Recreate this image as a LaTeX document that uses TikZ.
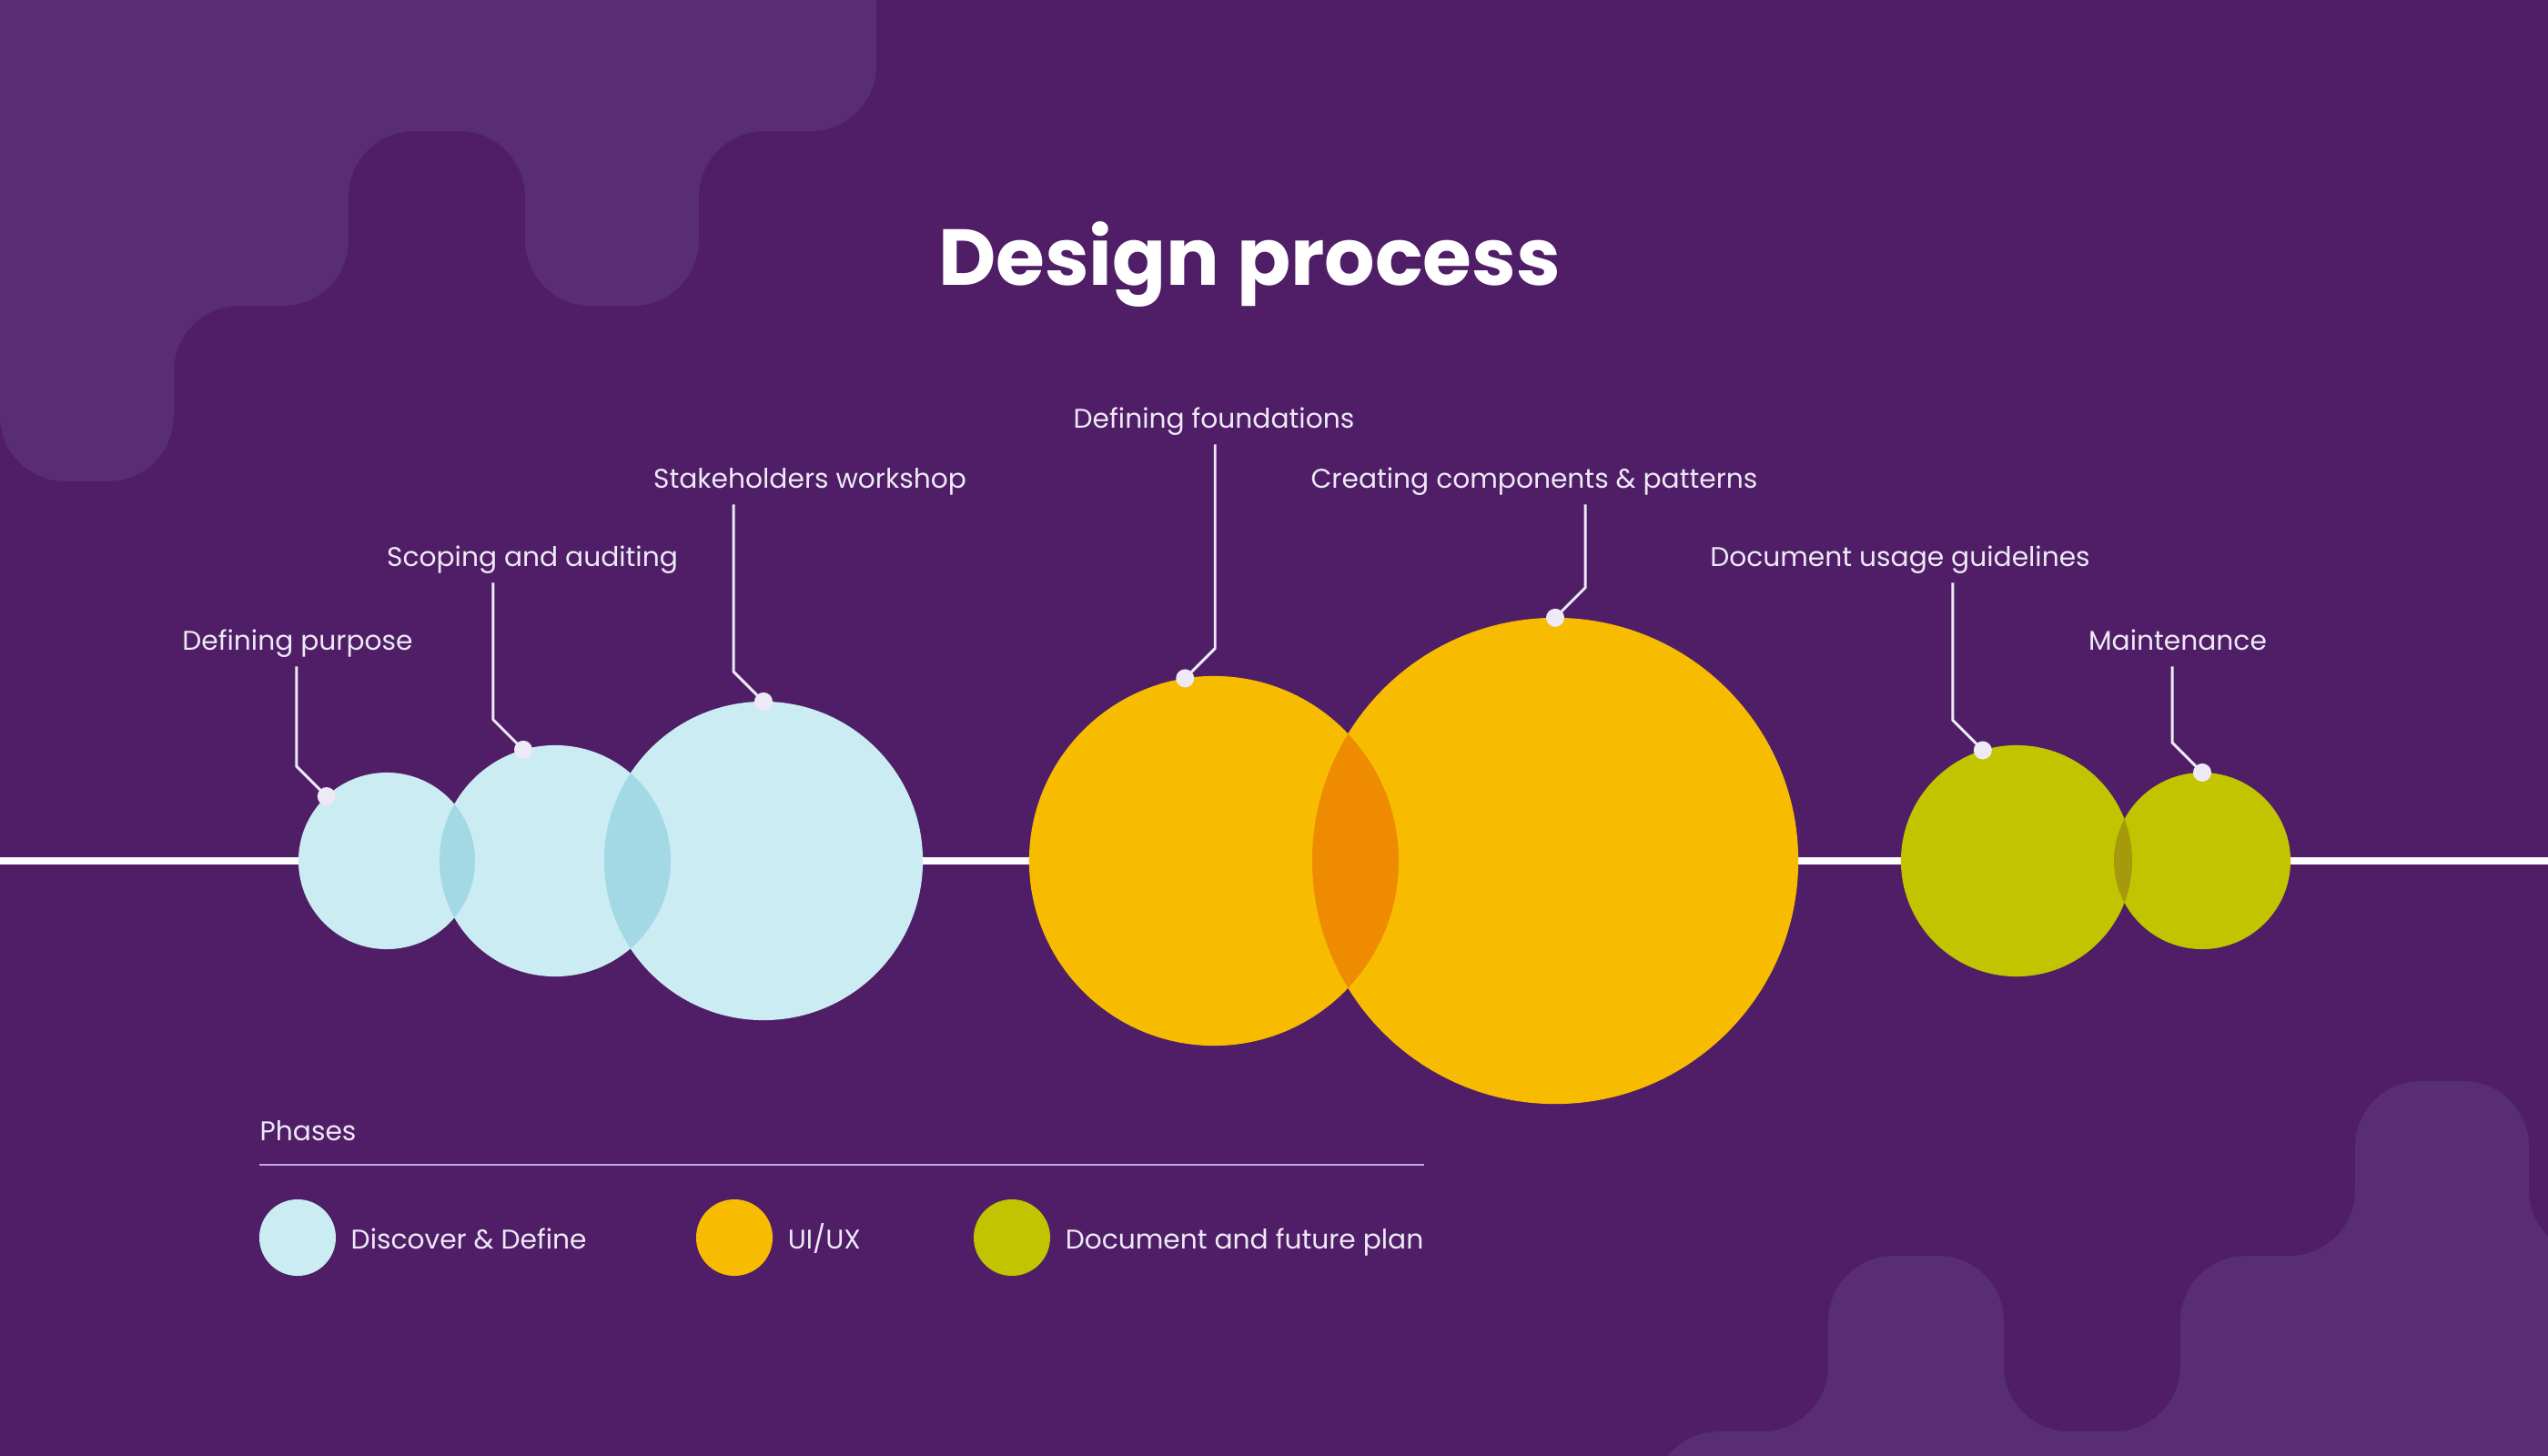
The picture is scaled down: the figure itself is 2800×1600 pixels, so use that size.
\documentclass[tikz,border=0pt]{standalone}
\usepackage{fontspec}
\setmainfont{Poppins}
\usetikzlibrary{positioning,calc}
\definecolor{bgcol}{RGB}{79,30,102}
\definecolor{blobcol}{RGB}{88,45,116}
\definecolor{textcol}{RGB}{237,233,246}
\definecolor{rulecol}{RGB}{196,166,224}
\definecolor{discol}{RGB}{202,236,242}
\definecolor{disdark}{RGB}{162,217,229}
\definecolor{uxcol}{RGB}{247,188,0}
\definecolor{uxdark}{RGB}{239,139,0}
\definecolor{doccol}{RGB}{194,196,0}
\definecolor{docdark}{RGB}{166,154,12}
\newcommand\stagefont{\fontsize{8.45pt}{10pt}\selectfont}

\begin{document}
\begin{tikzpicture}[
    x=0.01cm, y=-0.01cm,
    phase/.style={circle, inner sep=0pt, outer sep=0pt, minimum size=#1},
    dot/.style={circle, fill=textcol, inner sep=0pt, minimum size=0.2cm},
    stage/.style={text=textcol, font=\stagefont, inner xsep=0pt, inner ysep=5pt, text depth=0pt, anchor=base},
    legtext/.style={text=textcol, font=\stagefont, inner sep=0pt, text height=0.7em, text depth=0pt},
    leader/.style={draw=textcol, line width=0.85pt},
    axis/.style={draw=white, line width=2pt},
    rule/.style={draw=rulecol, line width=0.6pt},
    blob/.style={fill=blobcol, rounded corners=0.72cm},
]
\useasboundingbox (0,0) rectangle (2800,1600);
\clip (0,0) rectangle (2800,1600);
\fill[bgcol] (0,0) rectangle (2800,1600);

\fill[blob] (0,-200) -- (0,529) -- (191,529) -- (191,336) -- (383,336) -- (383,144) -- (577,144) -- (577,336) -- (768,336) -- (768,144) -- (963,144) -- (963,-200) -- cycle;
\fill[blob] (1817,1800) -- (1817,1573) -- (2009,1573) -- (2009,1380) -- (2202,1380) -- (2202,1573) -- (2396,1573) -- (2396,1380) -- (2588,1380) -- (2588,1188) -- (2779,1188) -- (2779,1380) -- (3000,1380) -- (3000,1800) -- cycle;

\node[text=white, font=\fontsize{24.8pt}{30pt}\selectfont\bfseries, anchor=base] (title) at (1373,314) {Design process};

\coordinate (axisL) at (0,946);
\coordinate (axisR) at (2800,946);
\draw[axis] (axisL) -- (axisR);

\node[phase=1.94cm, fill=discol] (c1) at (425,946) {};
\node[phase=2.54cm, fill=discol] (c2) at (610,946) {};
\node[phase=3.50cm, fill=discol] (c3) at (839,946) {};
\node[phase=4.06cm, fill=uxcol] (c4) at (1334,946) {};
\node[phase=5.34cm, fill=uxcol] (c5) at (1709,946) {};
\node[phase=2.54cm, fill=doccol] (c6) at (2216,946) {};
\node[phase=1.94cm, fill=doccol] (c7) at (2420,946) {};

\begin{scope}
  \clip (c1.center) circle[radius=97];
  \fill[disdark] (c2.center) circle[radius=127];
\end{scope}
\begin{scope}
  \clip (c2.center) circle[radius=127];
  \fill[disdark] (c3.center) circle[radius=175];
\end{scope}
\begin{scope}
  \clip (c4.center) circle[radius=203];
  \fill[uxdark] (c5.center) circle[radius=267];
\end{scope}
\begin{scope}
  \clip (c6.center) circle[radius=127];
  \fill[docdark] (c7.center) circle[radius=97];
\end{scope}

\node[stage] (s1) at (327,714) {Defining purpose};
\node[stage] (s2) at (585,622) {Scoping and auditing};
\node[stage] (s3) at (890,536) {Stakeholders workshop};
\node[stage] (s4) at (1334,470) {Defining foundations};
\node[stage] (s5) at (1686,536) {Creating components \& patterns};
\node[stage] (s6) at (2088,622) {Document usage guidelines};
\node[stage] (s7) at (2393,714) {Maintenance};

\draw[leader] (c1.133) -- ++(-33,-33) coordinate (b1) -- (b1 |- s1.south);
\draw[leader] (c2.106) -- ++(-33,-33) coordinate (b2) -- (b2 |- s2.south);
\draw[leader] (c3.90) -- ++(-33,-33) coordinate (b3) -- (b3 |- s3.south);
\draw[leader] (c4.99) -- ++(33,-33) coordinate (b4) -- (b4 |- s4.south);
\draw[leader] (c5.90) -- ++(33,-33) coordinate (b5) -- (b5 |- s5.south);
\draw[leader] (c6.107) -- ++(-33,-33) coordinate (b6) -- (b6 |- s6.south);
\draw[leader] (c7.90) -- ++(-33,-33) coordinate (b7) -- (b7 |- s7.south);

\node[dot] (d1) at (c1.133) {};
\node[dot] (d2) at (c2.106) {};
\node[dot] (d3) at (c3.90) {};
\node[dot] (d4) at (c4.99) {};
\node[dot] (d5) at (c5.90) {};
\node[dot] (d6) at (c6.107) {};
\node[dot] (d7) at (c7.90) {};

\node[legtext, anchor=base west] (phases) at (285,1253) {Phases};
\coordinate (ruleL) at (285,1280);
\node[phase=0.84cm, fill=discol] (k1) at (327,1360) {};
\node[legtext, right=0.16cm of k1] (t1) {Discover \& Define};
\node[phase=0.84cm, fill=uxcol] (k2) at (807,1360) {};
\node[legtext, right=0.16cm of k2] (t2) {UI/UX};
\node[phase=0.84cm, fill=doccol] (k3) at (1112,1360) {};
\node[legtext, right=0.16cm of k3] (t3) {Document and future plan};
\draw[rule] (ruleL) -- (ruleL -| t3.east);
\end{tikzpicture}
\end{document}
